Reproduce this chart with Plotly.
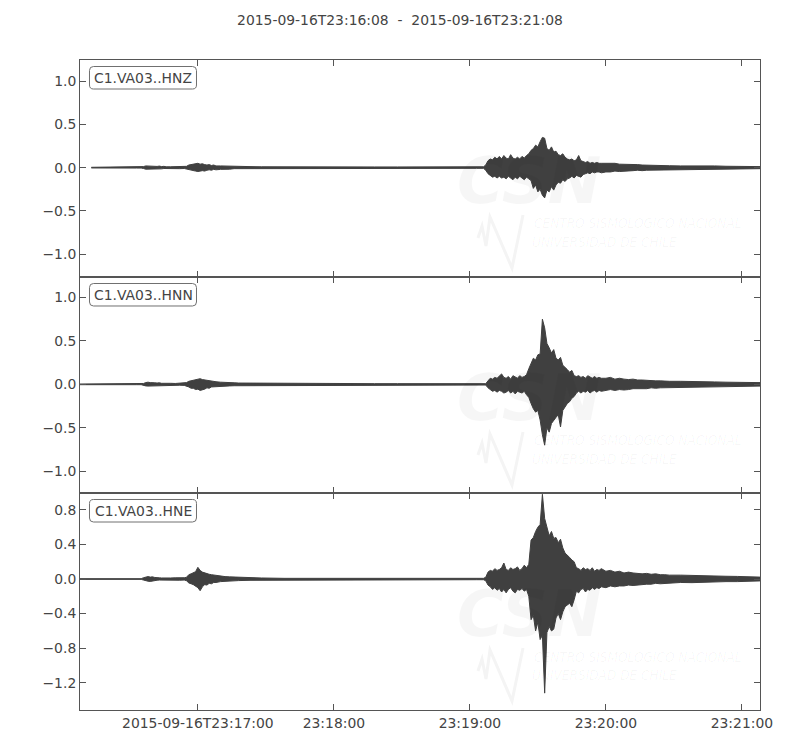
import plotly.graph_objects as go
import pandas as pd

START = "2015-09-16 23:16:08"
END = "2015-09-16 23:21:08"
TITLE = "2015-09-16T23:16:08\u00a0\u00a0-\u00a0\u00a02015-09-16T23:21:08"
STATIONS = ["C1.VA03..HNZ", "C1.VA03..HNN", "C1.VA03..HNE"]

# seconds after START at which the per-column max / min of each trace were read
TIME = [0, 5, 10, 15, 20, 25, 27,
        28, 29, 30, 31, 32, 33, 34, 35, 36, 37, 38,
        40, 42, 44, 46,
        47, 48, 49, 50, 51, 52, 53, 54, 55, 56, 57, 58, 59, 60,
        62, 64, 66, 68, 70, 75, 80, 90, 100, 110, 120, 130, 140, 150, 160, 170, 175, 178,
        179, 180, 181, 182, 183, 184, 185, 186, 187, 188,
        189, 190, 191, 192, 193, 194, 195, 196, 197, 198,
        199, 200, 201, 202, 203, 204, 205, 206, 207, 208,
        209, 210, 211, 212, 213, 214, 215, 216, 217, 218,
        219, 220, 221, 222, 223, 224, 225, 226, 227, 228,
        229, 230,
        232, 234, 236, 238, 240, 242, 244, 246, 248, 250, 252, 254, 256, 258, 260,
        265, 270, 275, 280, 285, 290, 295, 300]

HNZ_UP = [None, .004, .005, .005, .005, .005, .005,
          .012, .02, .018, .022, .015, .02, .014, .018, .012, .015, .01,
          .01, .012, .01, .012,
          .015, .03, .035, .04, .045, .05, .04, .045, .035, .03, .035, .025, .03, .02,
          .02, .018, .015, .015, .012, .012, .01, .008, .008, .008, .008, .008, .008, .008, .008, .008, .008, .01,
          .03, .08, .1, .09, .12, .1, .13, .1, .14, .11,
          .1, .15, .11, .1, .12, .1, .13, .11, .14, .16,
          .2, .22, .26, .24, .3, .35, .34, .22, .2, .24,
          .18, .19, .15, .14, .16, .12, .1, .09, .1, .08,
          .09, .14, .08, .07, .06, .07, .05, .06, .05, .06,
          .05, .05,
          .05, .045, .05, .04, .04, .035, .04, .035, .03, .03, .03, .028, .025, .025, .022,
          .02, .022, .018, .02, .016, .015, .014, .012]
HNZ_LO = [None, -.004, -.005, -.005, -.005, -.005, -.005,
          -.01, -.018, -.02, -.015, -.02, -.016, -.012, -.015, -.014, -.01, -.012,
          -.01, -.01, -.012, -.01,
          -.015, -.025, -.03, -.035, -.04, -.045, -.04, -.035, -.04, -.03, -.025, -.03, -.02, -.025,
          -.02, -.015, -.018, -.012, -.012, -.01, -.01, -.008, -.008, -.008, -.008, -.008, -.008, -.008, -.008, -.008, -.008, -.008,
          -.03, -.07, -.09, -.11, -.1, -.12, -.1, -.12, -.11, -.13,
          -.1, -.12, -.14, -.11, -.13, -.1, -.12, -.14, -.11, -.13,
          -.15, -.24, -.2, -.28, -.25, -.32, -.35, -.26, -.28, -.22,
          -.26, -.2, -.17, -.18, -.14, -.16, -.13, -.12, -.1, -.12,
          -.09, -.1, -.11, -.08, -.07, -.06, -.07, -.05, -.06, -.05,
          -.05, -.06,
          -.05, -.05, -.04, -.045, -.04, -.04, -.035, -.03, -.035, -.03, -.03, -.025, -.028, -.025, -.025,
          -.022, -.02, -.02, -.018, -.016, -.016, -.013, -.012]

HNN_UP = [.004, .004, .004, .004, .004, .004, .004,
          .01, .02, .025, .02, .022, .018, .015, .018, .012, .014, .01,
          .012, .01, .012, .012,
          .02, .035, .04, .05, .055, .06, .065, .055, .05, .045, .04, .035, .03, .03,
          .025, .02, .02, .018, .015, .014, .012, .008, .008, .008, .008, .008, .008, .008, .008, .008, .008, .008,
          .008, .04, .07, .06, .08, .07, .09, .12, .08, .07,
          .09, .06, .1, .08, .07, .1, .08, .09, .11, .18,
          .24, .3, .28, .34, .35, .75, .65, .47, .42, .36,
          .4, .3, .28, .31, .22, .2, .17, .14, .16, .1,
          .09, .1, .08, .09, .07, .1, .08, .07, .09, .07,
          .08, .07,
          .07, .08, .06, .07, .06, .055, .06, .05, .05, .045, .045, .04, .04, .035, .035,
          .035, .03, .03, .028, .025, .025, .022, .02]
HNN_LO = [-.004, -.004, -.004, -.004, -.004, -.004, -.004,
          -.01, -.018, -.02, -.025, -.018, -.02, -.015, -.014, -.015, -.012, -.012,
          -.01, -.012, -.01, -.012,
          -.018, -.03, -.045, -.045, -.06, -.055, -.07, -.06, -.055, -.04, -.045, -.03, -.035, -.025,
          -.025, -.022, -.018, -.016, -.015, -.012, -.012, -.008, -.008, -.008, -.008, -.008, -.008, -.008, -.008, -.008, -.008, -.008,
          -.008, -.04, -.06, -.08, -.07, -.09, -.07, -.08, -.1, -.09,
          -.07, -.1, -.08, -.11, -.08, -.09, -.1, -.08, -.12, -.15,
          -.22, -.28, -.32, -.3, -.41, -.58, -.7, -.5, -.55, -.45,
          -.42, -.38, -.35, -.49, -.3, -.26, -.22, -.2, -.16, -.14,
          -.1, -.08, -.1, -.08, -.09, -.07, -.1, -.08, -.07, -.09,
          -.07, -.08,
          -.07, -.06, -.07, -.06, -.065, -.06, -.05, -.055, -.05, -.05, -.04, -.045, -.04, -.04, -.035,
          -.03, -.032, -.028, -.03, -.025, -.022, -.022, -.02]

HNE_UP = [.004, .004, .004, .004, .004, .004, .004,
          .015, .025, .028, .022, .025, .018, .012, .014, .012, .014, .012,
          .012, .014, .012, .015,
          .02, .05, .06, .07, .085, .135, .1, .08, .07, .06, .055, .05, .045, .04,
          .03, .028, .025, .022, .02, .015, .012, .008, .008, .008, .008, .008, .008, .008, .008, .008, .008, .008,
          .02, .08, .1, .09, .12, .1, .11, .13, .185, .11,
          .1, .13, .11, .12, .14, .1, .12, .16, .13, .17,
          .45, .48, .55, .6, .63, .98, .7, .58, .5, .55,
          .47, .48, .42, .46, .36, .3, .28, .25, .22, .2,
          .13, .12, .1, .13, .11, .12, .1, .13, .09, .11,
          .1, .12,
          .09, .1, .08, .09, .07, .08, .07, .065, .06, .065, .055, .06, .05, .05, .045,
          .045, .04, .038, .035, .032, .03, .025, .022]
HNE_LO = [-.004, -.004, -.004, -.004, -.004, -.004, -.004,
          -.012, -.022, -.025, -.028, -.02, -.02, -.014, -.012, -.012, -.012, -.014,
          -.012, -.012, -.014, -.012,
          -.02, -.045, -.055, -.065, -.08, -.1, -.135, -.09, -.065, -.07, -.05, -.055, -.04, -.04,
          -.03, -.025, -.025, -.02, -.018, -.015, -.012, -.008, -.008, -.008, -.008, -.008, -.008, -.008, -.008, -.008, -.008, -.008,
          -.02, -.07, -.09, -.12, -.1, -.13, -.11, -.15, -.12, -.16,
          -.12, -.1, -.14, -.16, -.12, -.13, -.11, -.14, -.12, -.2,
          -.47, -.42, -.6, -.5, -.7, -.65, -1.32, -.62, -.55, -.6,
          -.58, -.45, -.4, -.47, -.38, -.32, -.3, -.28, -.32, -.24,
          -.14, -.16, -.12, -.11, -.15, -.12, -.13, -.1, -.12, -.1,
          -.11, -.09,
          -.1, -.08, -.09, -.08, -.08, -.07, -.075, -.07, -.065, -.06, -.06, -.05, -.055, -.05, -.05,
          -.04, -.042, -.04, -.035, -.03, -.03, -.028, -.022]

Y_RANGES = [[-1.265, 1.245], [-1.25, 1.235], [-1.515, 0.995]]
Y_TICKS = [[-1.0, -0.5, 0.0, 0.5, 1.0], [-1.0, -0.5, 0.0, 0.5, 1.0],
           [-1.2, -0.8, -0.4, 0.0, 0.4, 0.8]]
X_TICKS = ["2015-09-16 23:17:00", "2015-09-16 23:18:00", "2015-09-16 23:19:00",
           "2015-09-16 23:20:00", "2015-09-16 23:21:00"]
X_TICKTEXT = ["2015-09-16T23:17:00", "23:18:00", "23:19:00", "23:20:00", "23:21:00"]

for arr in (HNZ_UP, HNZ_LO, HNN_UP, HNN_LO, HNE_UP, HNE_LO):
    assert len(arr) == len(TIME), len(arr)

TRACE_COLOR = "#404040"
TEXT_COLOR = "#444444"
FRAME_COLOR = "#555555"
FONT = "DejaVu Sans"
FS = 13.9

# the page body places the figure 8 px in from the left/top of the window
OFF = 8
W, H = 800 - OFF, 750 - OFF
PLOT_L, PLOT_R, PLOT_T, PLOT_B = 80, 760, 60, 710          # window pixels
ML, MT = PLOT_L - OFF, PLOT_T - OFF
MR, MB = 800 - PLOT_R, 750 - PLOT_B
PW, PH = PLOT_R - PLOT_L, PLOT_B - PLOT_T
PANEL_TOPS = [60, 277, 493, 710]

base = pd.Timestamp(START)


def to_x(secs):
    return [(base + pd.Timedelta(seconds=s)).strftime("%Y-%m-%d %H:%M:%S.%f") for s in secs]


def px2paper(px, py):
    return (px - PLOT_L) / PW, (PLOT_B - py) / PH


fig = go.Figure()
series = [(HNZ_UP, HNZ_LO), (HNN_UP, HNN_LO), (HNE_UP, HNE_LO)]
for i, (up, lo) in enumerate(series):
    pts = [(t, u, l) for t, u, l in zip(TIME, up, lo) if u is not None]
    ts = [p[0] for p in pts]
    us = [p[1] for p in pts]
    ls = [p[2] for p in pts]
    xs = to_x(ts) + to_x(ts[::-1])
    ys = us + ls[::-1]
    sfx = "" if i == 0 else str(i + 1)
    fig.add_trace(go.Scatter(x=xs, y=ys, mode="lines", fill="toself",
                             fillcolor=TRACE_COLOR,
                             line=dict(color=TRACE_COLOR, width=1),
                             xaxis="x" + sfx, yaxis="y" + sfx,
                             hoverinfo="skip", showlegend=False))

layout = dict(
    width=W, height=H,
    margin=dict(l=ML, r=MR, t=MT, b=MB, pad=0),
    paper_bgcolor="white", plot_bgcolor="white",
    font=dict(family=FONT, size=FS, color=TEXT_COLOR),
    title=dict(text=TITLE, x=(400 - OFF) / W, xref="container",
               y=1 - (20 - OFF) / H, yref="container",
               xanchor="center", yanchor="middle",
               font=dict(family=FONT, size=FS, color=TEXT_COLOR)),
)

shapes = []
annotations = []
WM = "rgba(0,0,0,0.035)"
NARROW = "DejaVu Sans Condensed, Liberation Sans Narrow, sans-serif"
for i in range(3):
    top, bot = PANEL_TOPS[i], PANEL_TOPS[i + 1]
    dom = [(PLOT_B - bot) / PH, (PLOT_B - top) / PH]
    sfx = "" if i == 0 else str(i + 1)
    layout["xaxis" + sfx] = dict(
        type="date", range=[START, END], anchor="y" + sfx,
        tickvals=X_TICKS, ticktext=X_TICKTEXT, showticklabels=(i == 2),
        ticks="inside", ticklen=6, tickcolor=FRAME_COLOR, tickwidth=1,
        showline=True, linecolor=FRAME_COLOR, linewidth=1, mirror="ticks",
        showgrid=False, zeroline=False,
        tickfont=dict(family=FONT, size=FS, color=TEXT_COLOR),
        **({} if i == 0 else {"matches": "x"}))
    layout["yaxis" + sfx] = dict(
        domain=dom, range=Y_RANGES[i], anchor="x" + sfx,
        tickvals=Y_TICKS[i], tickformat=".1f",
        ticks="inside", ticklen=6, tickcolor=FRAME_COLOR, tickwidth=1,
        showline=True, linecolor=FRAME_COLOR, linewidth=1, mirror="ticks",
        showgrid=False, zeroline=False,
        tickfont=dict(family=FONT, size=FS, color=TEXT_COLOR))

    # rounded label box
    x0, x1 = 89.5, 196.5
    y0, y1 = top + 6.5, top + 29.0
    r = 4
    pts = [("M", x0 + r, y0), ("L", x1 - r, y0), ("Q", x1, y0, x1, y0 + r),
           ("L", x1, y1 - r), ("Q", x1, y1, x1 - r, y1), ("L", x0 + r, y1),
           ("Q", x0, y1, x0, y1 - r), ("L", x0, y0 + r), ("Q", x0, y0, x0 + r, y0)]
    path = ""
    for p in pts:
        coords = p[1:]
        segs = []
        for k in range(0, len(coords), 2):
            a, b = px2paper(coords[k], coords[k + 1])
            segs.append(f"{a:.5f},{b:.5f}")
        path += p[0] + " " + " ".join(segs) + " "
    path += "Z"
    shapes.append(dict(type="path", path=path, xref="paper", yref="paper",
                       line=dict(color="#707070", width=1), fillcolor="white",
                       layer="above"))
    cx, cy = px2paper((x0 + x1) / 2, (y0 + y1) / 2)
    annotations.append(dict(text=STATIONS[i], x=cx, y=cy, xref="paper", yref="paper",
                            showarrow=False, xanchor="center", yanchor="middle",
                            font=dict(family=FONT, size=FS, color=TEXT_COLOR)))

    # faint CSN watermark
    ax, ay = px2paper(529, top + 121)
    annotations.append(dict(text="CSN", x=ax, y=ay, xref="paper", yref="paper",
                            showarrow=False, xanchor="center", yanchor="middle",
                            font=dict(family=FONT, size=64, color=WM,
                                      style="italic", weight="bold")))
    ax, ay = px2paper(532, top + 163)
    annotations.append(dict(text="CENTRO SISMOLÓGICO NACIONAL", x=ax, y=ay,
                            xref="paper", yref="paper", showarrow=False,
                            xanchor="left", yanchor="middle",
                            font=dict(family=NARROW, size=13.5, color=WM, style="italic")))
    ax, ay = px2paper(530, top + 182)
    annotations.append(dict(text="UNIVERSIDAD DE CHILE", x=ax, y=ay,
                            xref="paper", yref="paper", showarrow=False,
                            xanchor="left", yanchor="middle",
                            font=dict(family=NARROW, size=13.5, color=WM, style="italic")))
    logo = [(478, 178), (482, 166), (486, 186), (490, 157), (512, 208), (523, 155)]
    lp = ""
    for k, (lx, ly) in enumerate(logo):
        a, b = px2paper(lx, top + ly)
        lp += ("M " if k == 0 else "L ") + f"{a:.5f},{b:.5f} "
    shapes.append(dict(type="path", path=lp, xref="paper", yref="paper",
                       line=dict(color="#f4f4f4", width=3), layer="below"))

layout["shapes"] = shapes
layout["annotations"] = annotations
fig.update_layout(**layout)

fig.write_html("out.html")
